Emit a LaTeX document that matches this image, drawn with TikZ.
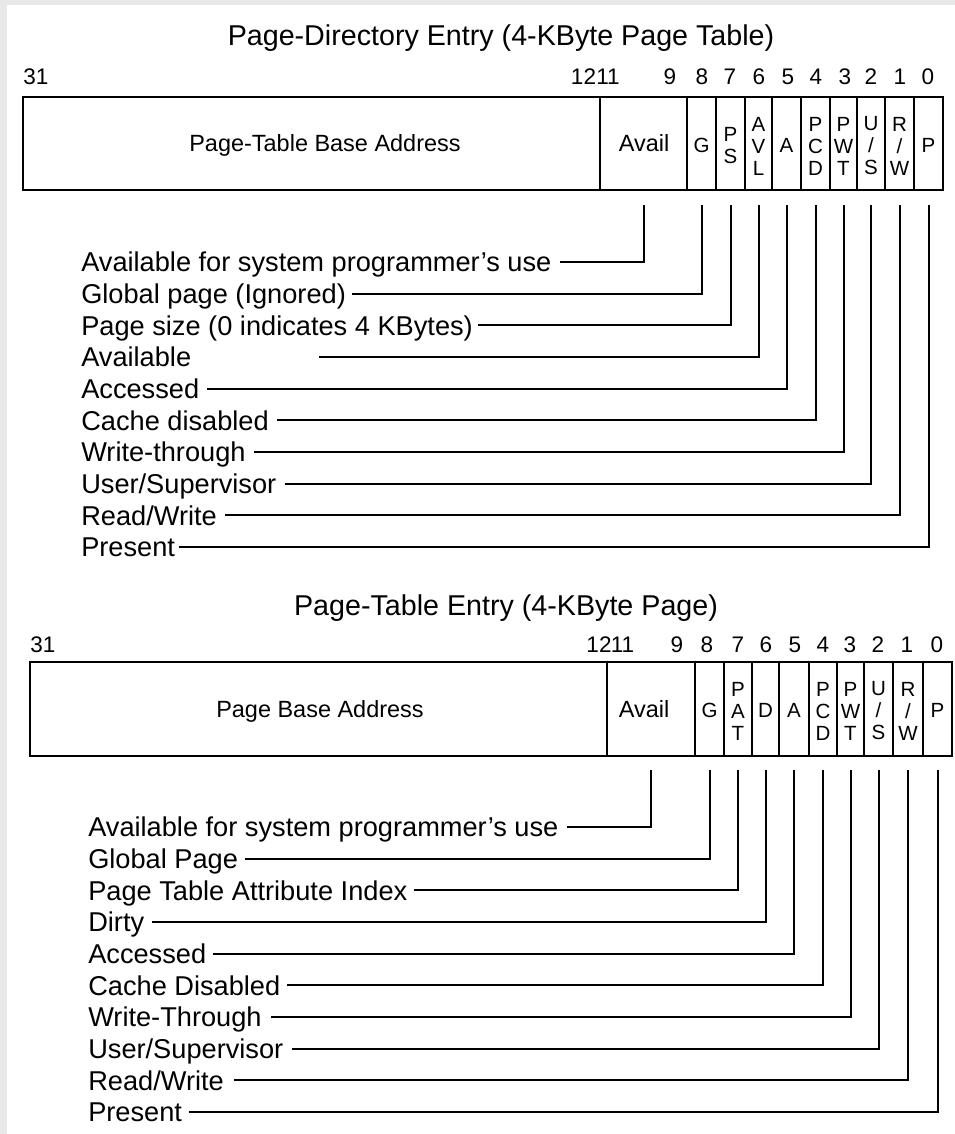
\documentclass[tikz,border=0pt]{standalone}
\usepackage{fontspec}
\setmainfont{Liberation Sans}
\begin{document}
\begin{tikzpicture}[x=0.75pt,y=-0.75pt,
  boxline/.style={line width=1.5pt},
  lead/.style={line width=1.5pt},
  ttl/.style={font=\fontsize{21.5}{24}\selectfont, inner sep=0pt, text height=15.4pt, text depth=0pt},
  bit/.style={font=\fontsize{16.9}{19}\selectfont, inner sep=0pt, text height=12.1pt, text depth=0pt},
  cellbig/.style={font=\fontsize{17.6}{20}\selectfont, inner sep=0pt, text height=12.6pt, text depth=0pt},
  cellsm/.style={font=\fontsize{15.4}{16.5}\selectfont, inner sep=0pt, align=center},
  lbl/.style={font=\fontsize{20.4}{24}\selectfont, anchor=west, inner sep=0pt, text height=14.6pt, text depth=0pt}]
\useasboundingbox (0,0) rectangle (955,1134);
\fill[white] (0,0) rectangle (955,1134);
\fill[black!9] (0,0) rectangle (955,5);
\fill[black!9] (0,0) rectangle (7,1134);

% ================= Page-Directory Entry =================
\node[ttl] (t1) at (501,35.5) {Page-Directory Entry (4-KByte Page Table)};
\node[bit] (b31) at (36,76) {31};
\node[bit] (b12) at (583.5,76) {12};
\node[bit] (b11) at (608,76) {11};
\node[bit] (b9) at (670,76) {9};
\node[bit] (b8) at (702,76) {8};
\node[bit] (b7) at (730,76) {7};
\node[bit] (b6) at (759,76) {6};
\node[bit] (b5) at (788,76) {5};
\node[bit] (b4) at (816,76) {4};
\node[bit] (b3) at (845,76) {3};
\node[bit] (b2) at (871,76) {2};
\node[bit] (b1) at (900,76) {1};
\node[bit] (b0) at (928,76) {0};

\draw[boxline] (23,97) rectangle (943,190);
\foreach \x in {600,687,716,745,772,801,830,857,885,914}
  \draw[boxline] (\x,97) -- (\x,190);
\node[cellbig] (dBase) at (325,143.5) {Page-Table Base Address};
\node[cellbig] (dAvail) at (644,143.5) {Avail};
\node[cellsm] (dG) at (701.5,145) {G};
\node[cellsm] (dPS) at (730.5,146) {P\\S};
\node[cellsm] (dAVL) at (758.5,146) {A\\V\\L};
\node[cellsm] (dA) at (786.5,145) {A};
\node[cellsm] (dPCD) at (815.5,146) {P\\C\\D};
\node[cellsm] (dPWT) at (843.5,146) {P\\W\\T};
\node[cellsm] (dUS) at (871,146) {U\\/\\S};
\node[cellsm] (dRW) at (899.5,146) {R\\/\\W};
\node[cellsm] (dP) at (928.5,145) {P};

\coordinate (pc1) at (643.5,205);
\coordinate (pc2) at (701.5,205);
\coordinate (pc3) at (730.5,205);
\coordinate (pc4) at (758.5,205);
\coordinate (pc5) at (786.5,205);
\coordinate (pc6) at (815.5,205);
\coordinate (pc7) at (843.5,205);
\coordinate (pc8) at (871,205);
\coordinate (pc9) at (899.5,205);
\coordinate (pc10) at (928.5,205);

\node[lbl] (pa1) at (81,262) {Available for system programmer’s use};
\node[lbl] (pa2) at (81,293.7) {Global page (Ignored)};
\node[lbl] (pa3) at (81,325.3) {Page size (0 indicates 4 KBytes)};
\node[lbl] (pa4) at (81,357) {Available};
\node[lbl] (pa5) at (81,388.7) {Accessed};
\node[lbl] (pa6) at (81,420.3) {Cache disabled};
\node[lbl] (pa7) at (81,452) {Write-through};
\node[lbl] (pa8) at (81,483.7) {User/Supervisor};
\node[lbl] (pa9) at (81,515.3) {Read/Write};
\node[lbl] (pa10) at (81,547) {Present};
\coordinate (pa4s) at (319,357);

\draw[lead] ([xshift=6pt]pa1.east) -| (pc1);
\draw[lead] ([xshift=4.5pt]pa2.east) -| (pc2);
\draw[lead] ([xshift=4pt]pa3.east) -| (pc3);
\draw[lead] (pa4s |- pa4.east) -| (pc4);
\draw[lead] ([xshift=6pt]pa5.east) -| (pc5);
\draw[lead] ([xshift=6pt]pa6.east) -| (pc6);
\draw[lead] ([xshift=6pt]pa7.east) -| (pc7);
\draw[lead] ([xshift=6pt]pa8.east) -| (pc8);
\draw[lead] ([xshift=6pt]pa9.east) -| (pc9);
\draw[lead] ([xshift=2.5pt]pa10.east) -| (pc10);

% ================= Page-Table Entry =================
\node[ttl] (t2) at (506,605) {Page-Table Entry (4-KByte Page)};
\node[bit] (c31) at (43,644) {31};
\node[bit] (c12) at (599,644) {12};
\node[bit] (c11) at (622.5,644) {11};
\node[bit] (c9) at (677,644) {9};
\node[bit] (c8) at (707,644) {8};
\node[bit] (c7) at (738,644) {7};
\node[bit] (c6) at (766,644) {6};
\node[bit] (c5) at (795,644) {5};
\node[bit] (c4) at (823,644) {4};
\node[bit] (c3) at (850,644) {3};
\node[bit] (c2) at (878,644) {2};
\node[bit] (c1) at (907,644) {1};
\node[bit] (c0) at (937,644) {0};

\draw[boxline] (30,662) rectangle (952,756);
\foreach \x in {607,695,724,752,779,809,837,864,893,923}
  \draw[boxline] (\x,662) -- (\x,756);
\node[cellbig] (tBase) at (320,709) {Page Base Address};
\node[cellbig] (tAvail) at (644,709) {Avail};
\node[cellsm] (tG) at (709.5,710) {G};
\node[cellsm] (tPAT) at (738,711) {P\\A\\T};
\node[cellsm] (tD) at (765.5,710) {D};
\node[cellsm] (tA) at (794,710) {A};
\node[cellsm] (tPCD) at (823,711) {P\\C\\D};
\node[cellsm] (tPWT) at (850.5,711) {P\\W\\T};
\node[cellsm] (tUS) at (878.5,711) {U\\/\\S};
\node[cellsm] (tRW) at (908,711) {R\\/\\W};
\node[cellsm] (tP) at (937.5,710) {P};

\coordinate (qc1) at (651,770);
\coordinate (qc2) at (709.5,770);
\coordinate (qc3) at (738,770);
\coordinate (qc4) at (765.5,770);
\coordinate (qc5) at (794,770);
\coordinate (qc6) at (823,770);
\coordinate (qc7) at (850.5,770);
\coordinate (qc8) at (878.5,770);
\coordinate (qc9) at (908,770);
\coordinate (qc10) at (937.5,770);

\node[lbl] (qa1) at (88,827) {Available for system programmer’s use};
\node[lbl] (qa2) at (88,858.7) {Global Page};
\node[lbl] (qa3) at (88,890.3) {Page Table Attribute Index};
\node[lbl] (qa4) at (88,922) {Dirty};
\node[lbl] (qa5) at (88,953.7) {Accessed};
\node[lbl] (qa6) at (88,985.3) {Cache Disabled};
\node[lbl] (qa7) at (88,1017) {Write-Through};
\node[lbl] (qa8) at (88,1048.7) {User/Supervisor};
\node[lbl] (qa9) at (88,1080.3) {Read/Write};
\node[lbl] (qa10) at (88,1112) {Present};

\draw[lead] ([xshift=6pt]qa1.east) -| (qc1);
\draw[lead] ([xshift=5pt]qa2.east) -| (qc2);
\draw[lead] ([xshift=4.5pt]qa3.east) -| (qc3);
\draw[lead] ([xshift=6pt]qa4.east) -| (qc4);
\draw[lead] ([xshift=5pt]qa5.east) -| (qc5);
\draw[lead] ([xshift=5pt]qa6.east) -| (qc6);
\draw[lead] ([xshift=6.5pt]qa7.east) -| (qc7);
\draw[lead] ([xshift=6.5pt]qa8.east) -| (qc8);
\draw[lead] ([xshift=7.5pt]qa9.east) -| (qc9);
\draw[lead] ([xshift=5pt]qa10.east) -| (qc10);
\end{tikzpicture}
\end{document}
